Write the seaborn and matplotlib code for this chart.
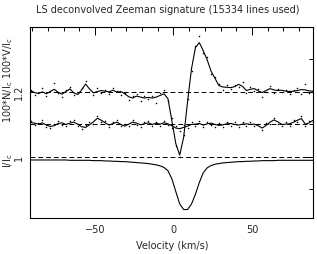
import numpy as np
import pandas as pd
import matplotlib
matplotlib.use("Agg")
import matplotlib.pyplot as plt
from matplotlib.ticker import MultipleLocator
import seaborn as sns

velocity = np.arange(-91, 89.1, 2.5)

stokes_I = [0.990, 0.990, 0.990, 0.990, 0.990, 0.990, 0.990, 0.990, 0.990, 0.990,
            0.989, 0.989, 0.989, 0.989, 0.989, 0.989, 0.988, 0.988, 0.988, 0.987,
            0.987, 0.986, 0.986, 0.985, 0.985, 0.984, 0.983, 0.982, 0.981, 0.980,
            0.979, 0.977, 0.975, 0.972, 0.967, 0.957, 0.932, 0.893, 0.855, 0.838,
            0.838, 0.855, 0.885, 0.921, 0.951, 0.966, 0.973, 0.977, 0.979, 0.981,
            0.982, 0.983, 0.984, 0.985, 0.985, 0.986, 0.986, 0.987, 0.987, 0.988,
            0.988, 0.988, 0.988, 0.989, 0.989, 0.989, 0.989, 0.989, 0.989, 0.989,
            0.989, 0.989, 0.989]

stokes_V_line = [1.202, 1.197, 1.194, 1.199, 1.193, 1.200, 1.207, 1.198, 1.192, 1.200,
                 1.208, 1.196, 1.191, 1.205, 1.223, 1.208, 1.196, 1.200, 1.203, 1.201,
                 1.199, 1.204, 1.198, 1.200, 1.193, 1.184, 1.180, 1.186, 1.183, 1.180,
                 1.182, 1.180, 1.183, 1.188, 1.193, 1.178, 1.110, 1.040, 1.005, 1.060,
                 1.170, 1.270, 1.335, 1.350, 1.325, 1.297, 1.262, 1.240, 1.218, 1.214,
                 1.213, 1.212, 1.215, 1.222, 1.216, 1.203, 1.207, 1.209, 1.202, 1.197,
                 1.203, 1.209, 1.205, 1.203, 1.204, 1.201, 1.200, 1.201, 1.203, 1.206,
                 1.205, 1.202, 1.201]

stokes_V_dots = [1.205, 1.190, 1.196, 1.212, 1.186, 1.203, 1.227, 1.195, 1.184, 1.204,
                 1.214, 1.188, 1.197, 1.210, 1.231, 1.200, 1.190, 1.211, 1.196, 1.206,
                 1.192, 1.210, 1.201, 1.189, 1.197, 1.175, 1.186, 1.192, 1.172, 1.185,
                 1.176, 1.187, 1.166, 1.195, 1.205, 1.172, 1.118, 1.034, 1.000, 1.066,
                 1.178, 1.262, 1.340, 1.370, 1.318, 1.305, 1.255, 1.246, 1.224, 1.205,
                 1.219, 1.208, 1.220, 1.214, 1.228, 1.196, 1.214, 1.203, 1.208, 1.184,
                 1.199, 1.216, 1.196, 1.209, 1.198, 1.206, 1.193, 1.205, 1.212, 1.193,
                 1.222, 1.196, 1.205]

null_N_line = [1.105, 1.103, 1.100, 1.104, 1.097, 1.093, 1.095, 1.102, 1.104, 1.099,
               1.103, 1.106, 1.100, 1.092, 1.090, 1.098, 1.107, 1.118, 1.112, 1.104,
               1.097, 1.102, 1.106, 1.099, 1.094, 1.100, 1.106, 1.103, 1.098, 1.101,
               1.104, 1.099, 1.103, 1.100, 1.104, 1.101, 1.095, 1.088, 1.086, 1.090,
               1.094, 1.099, 1.100, 1.102, 1.097, 1.101, 1.103, 1.099, 1.096, 1.098,
               1.101, 1.102, 1.099, 1.097, 1.100, 1.101, 1.099, 1.100, 1.095, 1.088,
               1.096, 1.106, 1.113, 1.107, 1.099, 1.100, 1.101, 1.106, 1.112, 1.117,
               1.100, 1.104, 1.112]

null_N_dots = [1.110, 1.096, 1.104, 1.112, 1.090, 1.089, 1.101, 1.109, 1.098, 1.093,
               1.110, 1.112, 1.094, 1.085, 1.096, 1.105, 1.099, 1.125, 1.106, 1.111,
               1.090, 1.108, 1.113, 1.094, 1.101, 1.093, 1.112, 1.097, 1.092, 1.107,
               1.111, 1.093, 1.108, 1.094, 1.110, 1.097, 1.089, 1.094, 1.080, 1.096,
               1.088, 1.107, 1.093, 1.109, 1.091, 1.108, 1.097, 1.092, 1.104, 1.091,
               1.108, 1.095, 1.106, 1.090, 1.107, 1.094, 1.105, 1.093, 1.101, 1.082,
               1.102, 1.099, 1.120, 1.101, 1.093, 1.108, 1.094, 1.113, 1.105, 1.124,
               1.094, 1.110, 1.105]

ref_levels = [1.0, 1.1, 1.2]
x_ticks = [-50, 0, 50]
y_ticks = [1.0, 1.2]
y_ticklabels = ["1", "1.2"]

title = "LS deconvolved Zeeman signature (15334 lines used)"
xlabel = "Velocity (km/s)"

df = pd.DataFrame({"v": velocity, "I": stokes_I, "V": stokes_V_line,
                   "Vd": stokes_V_dots, "N": null_N_line, "Nd": null_N_dots})

sns.set_style("white")
plt.rcParams["font.family"] = ["DejaVu Sans"]

fig = plt.figure(figsize=(3.17, 2.55), dpi=100)
ax = fig.add_axes([30 / 317, 1 - 219 / 255, 283 / 317, 191 / 255])

for lvl in ref_levels:
    ax.axhline(lvl, color="black", lw=0.7, ls=(0, (5, 3)))

sns.lineplot(data=df, x="v", y="I", ax=ax, color="black", lw=0.8)
sns.lineplot(data=df, x="v", y="V", ax=ax, color="black", lw=0.8)
sns.lineplot(data=df, x="v", y="N", ax=ax, color="black", lw=0.8)
sns.scatterplot(data=df, x="v", y="Vd", ax=ax, color="black", s=1.2,
                linewidth=0, marker="o")
sns.scatterplot(data=df, x="v", y="Nd", ax=ax, color="black", s=1.2,
                linewidth=0, marker="o")

ax.set_xlim(-91.4, 88.9)
ax.set_ylim(0.812, 1.398)
ax.set_xticks(x_ticks)
ax.set_xticklabels(["\u221250", "0", "50"])
ax.xaxis.set_minor_locator(MultipleLocator(10))
ax.set_yticks(y_ticks)
ax.set_yticklabels(y_ticklabels, rotation=90, va="center")
ax.yaxis.set_minor_locator(MultipleLocator(0.1))
ax.tick_params(which="both", direction="in", top=True, right=True,
               labelsize=7, color="black", width=0.7)
ax.tick_params(which="major", length=6, pad=4)
ax.tick_params(which="minor", length=3)
for s in ax.spines.values():
    s.set_color("black")
    s.set_linewidth(0.8)
ax.set_xlabel("")
ax.set_ylabel("")

fig.text(168 / 317, 1 - 10 / 255, title, ha="center", va="center", fontsize=7)
fig.text(172 / 317, 1 - 246 / 255, xlabel, ha="center", va="center", fontsize=7)
fig.text(8 / 317, 1 - 161 / 255, "I/I$_\\mathregular{c}$", rotation=90,
         ha="center", va="center", fontsize=7)
fig.text(8 / 317, 1 - 80 / 255,
         "100*N/I$_\\mathregular{c}$ 100*V/I$_\\mathregular{c}$", rotation=90,
         ha="center", va="center", fontsize=7)

fig.savefig("out.png", dpi=100)
